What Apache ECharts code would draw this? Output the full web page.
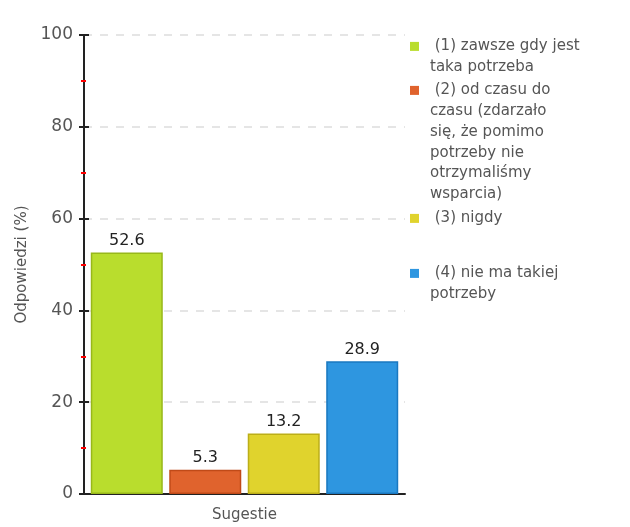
<!DOCTYPE html>
<html>
<head>
<meta charset="utf-8">
<script src="https://cdn.jsdelivr.net/npm/echarts@6/dist/echarts.min.js"></script>
<style>
  html, body { margin: 0; padding: 0; background: #fff; }
  #chart { width: 630px; height: 527px; }
</style>
</head>
<body>
<div id="chart"></div>
<script>
(function() {
  const categories = ['Sugestie'];
  const seriesNames = [
    '(1) zawsze gdy jest taka potrzeba',
    '(2) od czasu do czasu (zdarzało się, że pomimo potrzeby nie otrzymaliśmy wsparcia)',
    '(3) nigdy',
    '(4) nie ma takiej potrzeby'
  ];
  const legendLines = [
    ['(1) zawsze gdy jest', 'taka potrzeba'],
    ['(2) od czasu do', 'czasu (zdarzało', 'się, że pomimo', 'potrzeby nie', 'otrzymaliśmy', 'wsparcia)'],
    ['(3) nigdy'],
    ['(4) nie ma takiej', 'potrzeby']
  ];
  const values = [52.6, 5.3, 13.2, 28.9];
  const yTicks = [0, 20, 40, 60, 80, 100];

  const fills = ['#b9dd2d', '#e0632d', '#e0d32d', '#2e96e0'];
  const borders = ['#98b81a', '#c04a18', '#bcae18', '#1a78c0'];
  const legendTops = [36, 80, 208, 263];
  const font = 'DejaVu Sans';
  const LH = 20.8;

  const chart = echarts.init(document.getElementById('chart'));

  const rich = { gap: { width: 11, lineHeight: LH }, ind: { width: 20, lineHeight: LH }, t: { lineHeight: LH } };
  fills.forEach((c, i) => {
    rich['sq' + i] = { width: 9, height: 9, backgroundColor: c, lineHeight: LH };
  });

  const legends = seriesNames.map((name, i) => ({
    data: [name],
    orient: 'vertical',
    left: 405,
    top: legendTops[i],
    padding: 0,
    icon: 'none',
    itemWidth: 0,
    itemHeight: 0,
    itemGap: 0,
    selectedMode: false,
    formatter: () => legendLines[i]
      .map((l, j) => j === 0 ? '{sq' + i + '|}{gap|}{t| ' + l + '}' : '{ind|}{t|' + l + '}')
      .join('\n'),
    textStyle: {
      fontFamily: font,
      fontSize: 15,
      color: '#555',
      lineHeight: LH,
      rich: rich
    }
  }));

  const yBase = {
    type: 'value',
    min: 0,
    max: 100,
    interval: 20
  };

  const option = {
    backgroundColor: '#fff',
    animation: false,
    legend: legends,
    grid: { left: 84, top: 35, right: 225, bottom: 33, outerBoundsMode: 'none' },
    xAxis: {
      type: 'category',
      data: categories,
      name: 'Sugestie',
      nameLocation: 'middle',
      nameGap: 14,
      nameTextStyle: { fontFamily: font, fontSize: 15, color: '#555' },
      axisLine: { lineStyle: { color: '#222', width: 2 } },
      axisTick: { alignWithLabel: true, length: 6, lineStyle: { color: '#222', width: 2 } },
      axisLabel: { show: false }
    },
    yAxis: [
      Object.assign({}, yBase, {
        name: 'Odpowiedzi (%)',
        nameLocation: 'middle',
        nameGap: 54,
        nameTextStyle: { fontFamily: font, fontSize: 15, color: '#555' },
        axisLine: { show: true, lineStyle: { color: '#222', width: 2 } },
        axisTick: { show: true, length: 5, lineStyle: { color: '#222', width: 2 } },
        minorTick: { show: true, splitNumber: 2, length: 3, lineStyle: { color: '#f00', width: 2 } },
        axisLabel: {
          fontFamily: font,
          fontSize: 17,
          color: '#555',
          margin: 11,
          formatter: v => yTicks.includes(v) ? String(v) : ''
        },
        splitLine: { show: true, lineStyle: { color: '#ddd', type: [8, 8], width: 1.5 } }
      }),
      Object.assign({}, yBase, {
        position: 'left',
        axisLine: { show: false },
        axisTick: { show: true, inside: true, length: 5, lineStyle: { color: '#222', width: 2 } },
        minorTick: { show: true, splitNumber: 2, length: 2, lineStyle: { color: '#f00', width: 2 } },
        axisLabel: { show: false },
        splitLine: { show: false }
      })
    ],
    series: seriesNames.map((name, i) => ({
      name: name,
      type: 'bar',
      data: [values[i]],
      barWidth: 72,
      barGap: '9%',
      itemStyle: { color: fills[i], borderColor: borders[i], borderWidth: 1.5 },
      label: {
        show: true,
        position: 'top',
        distance: 4,
        fontFamily: font,
        fontSize: 16,
        color: '#222',
        formatter: p => p.value.toFixed(1)
      }
    }))
  };

  chart.setOption(option);
})();
</script>
</body>
</html>
